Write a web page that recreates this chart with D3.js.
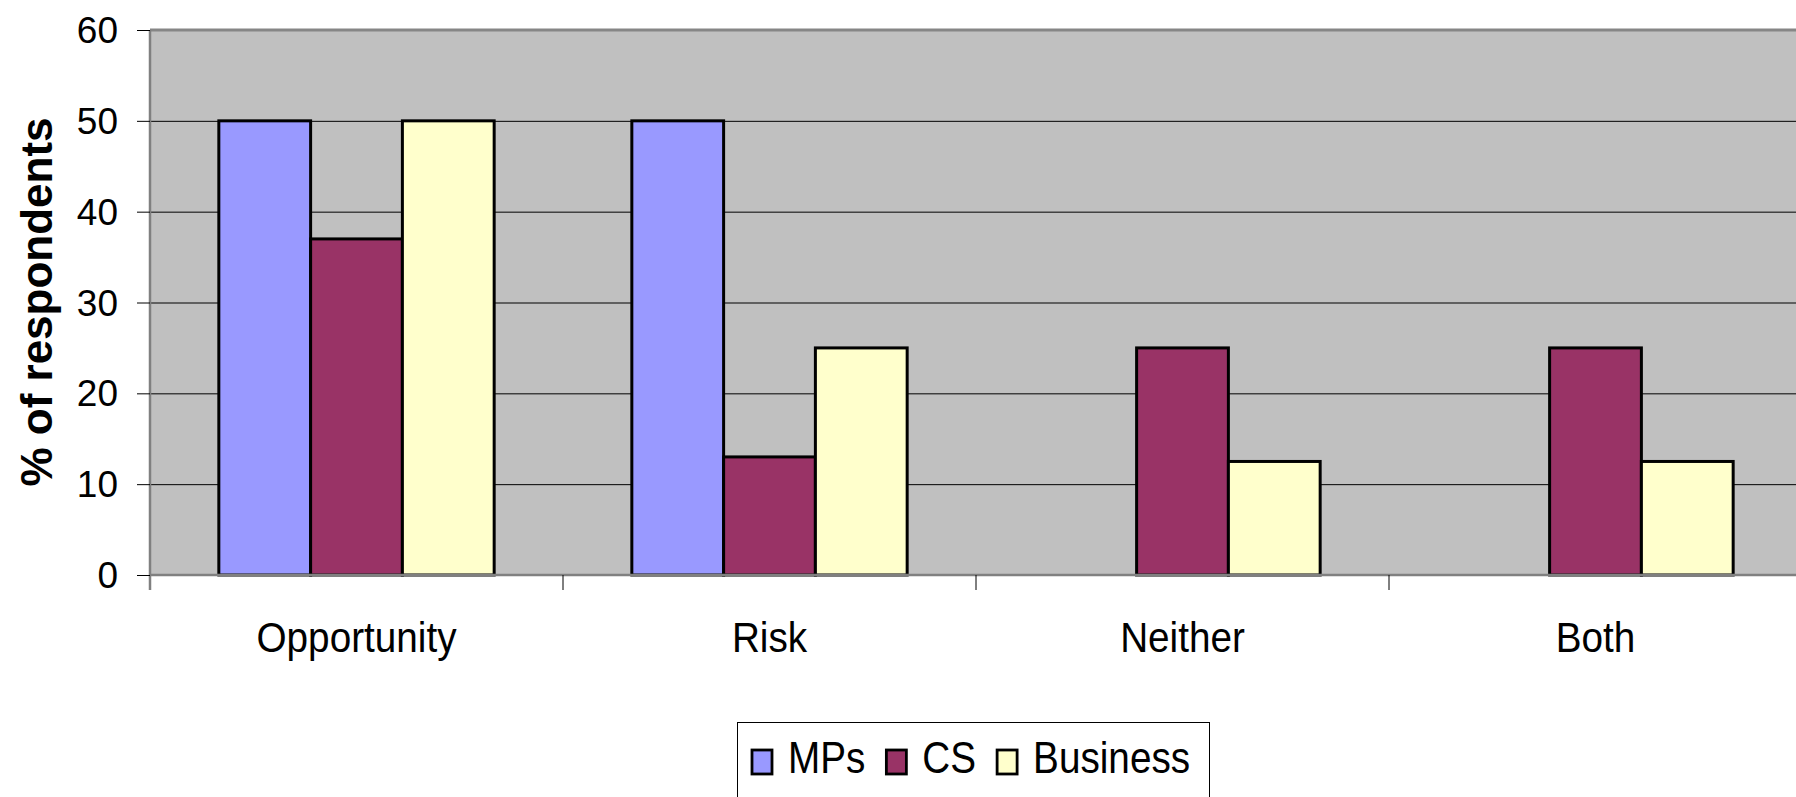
<!DOCTYPE html>
<html>
<head>
<meta charset="utf-8">
<script src="https://cdn.jsdelivr.net/npm/d3@7"></script>
<style>
  html, body { margin: 0; padding: 0; background: #fff; }
  svg { display: block; }
  text { font-family: "Liberation Sans", Arial, sans-serif; fill: #000; }
</style>
</head>
<body>
<script>
const categories = ["Opportunity", "Risk", "Neither", "Both"];
const series = ["MPs", "CS", "Business"];
const mpsValues = [50, 50, 0, 0];
const csValues = [37, 13, 25, 25];
const businessValues = [50, 25, 12.5, 12.5];
const yTicks = [0, 10, 20, 30, 40, 50, 60];
const colors = ["#9999FF", "#993366", "#FFFFCC"];
const yTitle = "% of respondents";

const W = 1796, H = 797;
const plot = { left: 150, top: 30, right: 1802, bottom: 575 };

const svg = d3.select("body").append("svg").attr("width", W).attr("height", H);

const y = d3.scaleLinear().domain([0, 60]).range([plot.bottom, plot.top]);
const x0 = d3.scaleBand().domain(categories).range([plot.left, plot.right]).padding(0);
const bw = x0.bandwidth();
const gapPad = bw * (0.75 / 4.5);
const x1 = d3.scaleBand().domain(series).range([gapPad, bw - gapPad]).padding(0);
const color = d3.scaleOrdinal().domain(series).range(colors);

const valuesBySeries = { MPs: mpsValues, CS: csValues, Business: businessValues };

// plot background
svg.append("rect")
  .attr("x", plot.left).attr("y", plot.top)
  .attr("width", plot.right - plot.left).attr("height", plot.bottom - plot.top)
  .attr("fill", "#C0C0C0");

// gridlines
svg.append("g").selectAll("line")
  .data(yTicks.filter(t => t > 0 && t < 60))
  .join("line")
  .attr("x1", plot.left).attr("x2", plot.right)
  .attr("y1", d => y(d) + 0.5).attr("y2", d => y(d) + 0.5)
  .attr("stroke", "#000").attr("stroke-width", 1);

// top border
svg.append("line")
  .attr("x1", plot.left).attr("x2", plot.right)
  .attr("y1", plot.top).attr("y2", plot.top)
  .attr("stroke", "#868686").attr("stroke-width", 3);

// bars
const rows = [];
categories.forEach((c, i) => {
  series.forEach(s => rows.push({ cat: c, ser: s, val: valuesBySeries[s][i] }));
});
svg.append("g").selectAll("rect")
  .data(rows.filter(d => d.val > 0))
  .join("rect")
  .attr("x", d => x0(d.cat) + x1(d.ser))
  .attr("y", d => y(d.val))
  .attr("width", x1.bandwidth())
  .attr("height", d => y(0) - y(d.val))
  .attr("fill", d => color(d.ser))
  .attr("stroke", "#000")
  .attr("stroke-width", 3);

// y axis
const yAxis = svg.append("g").attr("transform", `translate(${plot.left},0)`)
  .call(d3.axisLeft(y).tickValues(yTicks).tickSize(13).tickPadding(19).tickFormat(d3.format("d")));
yAxis.select(".domain").attr("stroke", "#808080").attr("stroke-width", 2.5)
  .attr("d", `M0,${plot.top}V${plot.bottom + 15}`);
yAxis.selectAll(".tick line").attr("stroke", "#000").attr("stroke-width", 1);
yAxis.selectAll(".tick text")
  .style("font-family", "'Liberation Sans', Arial, sans-serif")
  .style("font-size", "37px").attr("fill", "#000").attr("dy", "0.34em");

// x axis
const xAxis = svg.append("g").attr("transform", `translate(0,${plot.bottom})`);
xAxis.append("line")
  .attr("x1", plot.left).attr("x2", plot.right)
  .attr("y1", 0).attr("y2", 0)
  .attr("stroke", "#808080").attr("stroke-width", 2.5);
const bounds = categories.map(c => x0(c)).concat([plot.right]);
xAxis.selectAll("line.tk").data(bounds.slice(1)).join("line").attr("class", "tk")
  .attr("x1", d => d).attr("x2", d => d)
  .attr("y1", 0).attr("y2", 15)
  .attr("stroke", "#000").attr("stroke-width", 1);
xAxis.selectAll("text").data(categories).join("text")
  .attr("transform", d => `translate(${x0(d) + bw / 2},${652 - plot.bottom}) scale(0.9,1)`)
  .attr("text-anchor", "middle")
  .style("font-size", "43px")
  .text(d => d);

// y title
svg.append("text")
  .attr("transform", `translate(52,302) rotate(-90)`)
  .attr("text-anchor", "middle")
  .style("font-size", "44px").style("font-weight", "bold")
  .text(yTitle);

// legend
const lg = svg.append("g");
lg.append("rect")
  .attr("x", 737.5).attr("y", 722.5)
  .attr("width", 472).attr("height", 120)
  .attr("fill", "#fff").attr("stroke", "#000").attr("stroke-width", 1);
let lx = 752;
series.forEach((s, i) => {
  lg.append("rect")
    .attr("x", lx).attr("y", 750)
    .attr("width", 20).attr("height", 24)
    .attr("fill", color(s)).attr("stroke", "#000").attr("stroke-width", 2.8);
  const t = lg.append("text")
    .attr("transform", `translate(${lx + 36},773) scale(0.86,1)`)
    .style("font-size", "45px")
    .text(s);
  const w = t.node().getComputedTextLength() * 0.86;
  lx = lx + 36 + w + 21;
});
</script>
</body>
</html>
